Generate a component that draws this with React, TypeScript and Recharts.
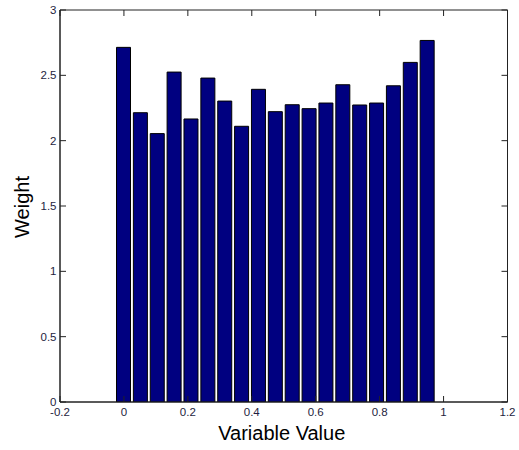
import React from 'react';
import { BarChart, Bar, XAxis, YAxis, ReferenceArea } from 'recharts';

const binCenters = [
  0, 0.0528, 0.1056, 0.1583, 0.2111, 0.2639, 0.3167, 0.3694, 0.4222, 0.475,
  0.5278, 0.5806, 0.6333, 0.6861, 0.7389, 0.7917, 0.8444, 0.8972, 0.95,
];
const weights = [
  2.714, 2.214, 2.054, 2.525, 2.166, 2.479, 2.303, 2.11, 2.393, 2.222,
  2.275, 2.245, 2.288, 2.428, 2.273, 2.288, 2.42, 2.599, 2.767,
];
const xTicks = [-0.2, 0, 0.2, 0.4, 0.6, 0.8, 1, 1.2];
const yTicks = [0, 0.5, 1, 1.5, 2, 2.5, 3];

const data = binCenters.map((x, i) => ({ x, w: weights[i] }));

const FONT = 'Liberation Sans, Arial, sans-serif';
const AXIS = '#222';
const TICKTEXT = '#1e1e40';

const CW = 519;
const CH = 450;
const MARGIN = { top: 10, right: 11.5, bottom: 0, left: 0 };
const Y_AXIS_W = 60;
const X_AXIS_H = 48;
const PLOT_L = MARGIN.left + Y_AXIS_W;
const PLOT_R = CW - MARGIN.right;
const PLOT_T = MARGIN.top;
const PLOT_B = CH - MARGIN.bottom - X_AXIS_H;
const TICK_LEN = 6;
const Y_TICK_GAP = 3.5;
const X_TICK_GAP = 6;

const fmt = (v: number) => String(Number(v.toFixed(2)));

const YTick = (props: any) => {
  const { x, y, payload } = props;
  return (
    <g>
      <line x1={PLOT_L} x2={PLOT_L + TICK_LEN} y1={y} y2={y} stroke={AXIS} />
      <line x1={PLOT_R - TICK_LEN} x2={PLOT_R} y1={y} y2={y} stroke={AXIS} />
      <text
        x={x}
        y={y}
        dy="0.355em"
        textAnchor="end"
        fontSize={11.5}
        fontFamily={FONT}
        fill={TICKTEXT}
      >
        {fmt(payload.value)}
      </text>
    </g>
  );
};

const XTick = (props: any) => {
  const { x, y, payload } = props;
  return (
    <g>
      <line x1={x} x2={x} y1={PLOT_B} y2={PLOT_B - TICK_LEN} stroke={AXIS} />
      <line x1={x} x2={x} y1={PLOT_T} y2={PLOT_T + TICK_LEN} stroke={AXIS} />
      <text
        x={x}
        y={y}
        dy="0.71em"
        textAnchor="middle"
        fontSize={11.5}
        fontFamily={FONT}
        fill={TICKTEXT}
      >
        {fmt(payload.value)}
      </text>
    </g>
  );
};

export default function App() {
  return (
    <div style={{ position: 'absolute', left: 0, top: 0, background: '#fff' }}>
      <BarChart width={CW} height={CH} data={data} margin={MARGIN}>
        <XAxis
          dataKey="x"
          type="number"
          domain={[-0.2, 1.2]}
          ticks={xTicks}
          allowDataOverflow
          height={X_AXIS_H}
          tickSize={0}
          tickMargin={X_TICK_GAP}
          tickLine={false}
          stroke={AXIS}
          tick={<XTick />}
          label={{
            content: ({ viewBox }: any) => (
              <text
                x={viewBox.x + viewBox.width / 2 - 2}
                y={440}
                textAnchor="middle"
                fontSize={20}
                fontFamily={FONT}
                fill="#000"
              >
                Variable Value
              </text>
            ),
          }}
        />
        <YAxis
          type="number"
          domain={[0, 3]}
          ticks={yTicks}
          allowDataOverflow
          width={Y_AXIS_W}
          tickSize={0}
          tickMargin={Y_TICK_GAP}
          tickLine={false}
          stroke={AXIS}
          tick={<YTick />}
          label={{
            content: ({ viewBox }: any) => {
              const cy = viewBox.y + viewBox.height / 2 + 1;
              return (
                <text
                  x={28.5}
                  y={cy}
                  textAnchor="middle"
                  fontSize={20}
                  fontFamily={FONT}
                  fill="#000"
                  transform={`rotate(-90, 28.5, ${cy})`}
                >
                  Weight
                </text>
              );
            },
          }}
        />
        <ReferenceArea
          x1={-0.2}
          x2={1.2}
          y1={0}
          y2={3}
          fill="none"
          fillOpacity={0}
          stroke={AXIS}
          strokeWidth={1}
          ifOverflow="visible"
        />
        <Bar
          dataKey="w"
          fill="#000080"
          stroke="#000"
          strokeWidth={1}
          barSize={14}
          isAnimationActive={false}
        />
      </BarChart>
    </div>
  );
}
